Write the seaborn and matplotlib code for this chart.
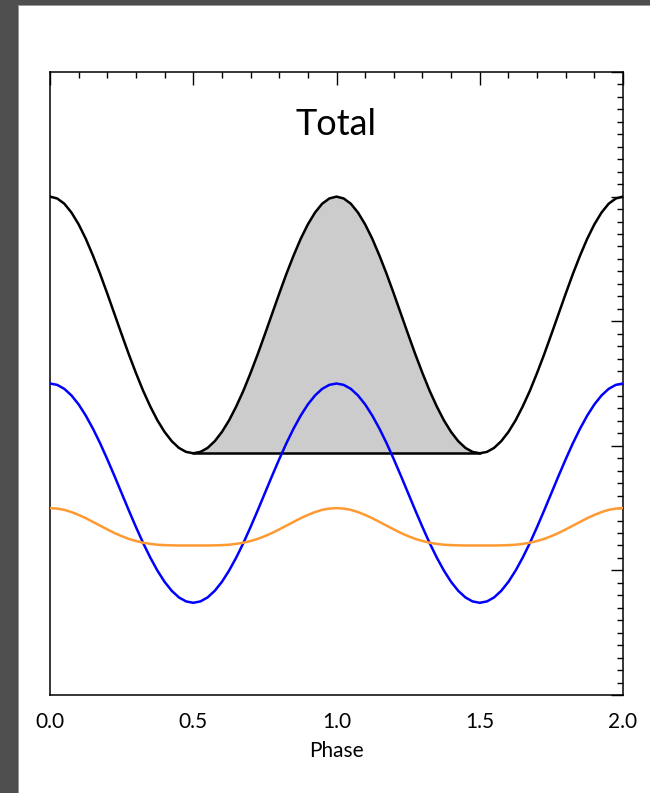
import numpy as np
import pandas as pd
import matplotlib
matplotlib.use("Agg")
import matplotlib.pyplot as plt
from matplotlib.patches import Rectangle
from matplotlib.ticker import MultipleLocator
import seaborn as sns

# ---------------- data (phase step 0.025) ----------------
phase = [round(0.025 * i, 3) for i in range(81)]

blue = [2.500, 2.489, 2.457, 2.404, 2.332, 2.242, 2.137, 2.020, 1.892, 1.758,
        1.620, 1.482, 1.348, 1.220, 1.103, 0.998, 0.908, 0.836, 0.783, 0.751, 0.740,
        0.751, 0.783, 0.836, 0.908, 0.998, 1.103, 1.220, 1.348, 1.482, 1.620,
        1.758, 1.892, 2.020, 2.137, 2.242, 2.332, 2.404, 2.457, 2.489, 2.500,
        2.489, 2.457, 2.404, 2.332, 2.242, 2.137, 2.020, 1.892, 1.758, 1.620,
        1.482, 1.348, 1.220, 1.103, 0.998, 0.908, 0.836, 0.783, 0.751, 0.740,
        0.751, 0.783, 0.836, 0.908, 0.998, 1.103, 1.220, 1.348, 1.482, 1.620,
        1.758, 1.892, 2.020, 2.137, 2.242, 2.332, 2.404, 2.457, 2.489, 2.500]
orange = [1.500, 1.496, 1.486, 1.468, 1.445, 1.419, 1.389, 1.359, 1.329, 1.300,
          1.275, 1.253, 1.236, 1.222, 1.213, 1.206, 1.203, 1.201, 1.200, 1.200, 1.200,
          1.200, 1.200, 1.201, 1.203, 1.206, 1.213, 1.222, 1.236, 1.253, 1.275,
          1.300, 1.329, 1.359, 1.389, 1.419, 1.445, 1.468, 1.486, 1.496, 1.500,
          1.496, 1.486, 1.468, 1.445, 1.419, 1.389, 1.359, 1.329, 1.300, 1.275,
          1.253, 1.236, 1.222, 1.213, 1.206, 1.203, 1.201, 1.200, 1.200, 1.200,
          1.200, 1.200, 1.201, 1.203, 1.206, 1.213, 1.222, 1.236, 1.253, 1.275,
          1.300, 1.329, 1.359, 1.389, 1.419, 1.445, 1.468, 1.486, 1.496, 1.500]
total = [4.000, 3.985, 3.943, 3.872, 3.777, 3.661, 3.526, 3.379, 3.221, 3.058,
         2.895, 2.735, 2.584, 2.442, 2.316, 2.204, 2.111, 2.037, 1.983, 1.951, 1.940,
         1.951, 1.983, 2.037, 2.111, 2.204, 2.316, 2.442, 2.584, 2.735, 2.895,
         3.058, 3.221, 3.379, 3.526, 3.661, 3.777, 3.872, 3.943, 3.985, 4.000,
         3.985, 3.943, 3.872, 3.777, 3.661, 3.526, 3.379, 3.221, 3.058, 2.895,
         2.735, 2.584, 2.442, 2.316, 2.204, 2.111, 2.037, 1.983, 1.951, 1.940,
         1.951, 1.983, 2.037, 2.111, 2.204, 2.316, 2.442, 2.584, 2.735, 2.895,
         3.058, 3.221, 3.379, 3.526, 3.661, 3.777, 3.872, 3.943, 3.985, 4.000]

floor_phase = [0.5, 1.5]
floor_level = 1.940

xtick_values = [0.0, 0.5, 1.0, 1.5, 2.0]
xtick_labels = ["0.0", "0.5", "1.0", "1.5", "2.0"]
title_text = "Total"
xlabel_text = "Phase"

# ---------------- figure ----------------
sns.set_style("white")
plt.rcParams["font.family"] = ["Lato", "DejaVu Sans"]
plt.rcParams["text.color"] = "black"
plt.rcParams["axes.labelcolor"] = "black"
plt.rcParams["xtick.color"] = "black"
plt.rcParams["ytick.color"] = "black"

W, H = 650, 793
fig = plt.figure(figsize=(W / 100, H / 100), dpi=100)
fig.patch.set_facecolor("white")

# dark window frame (left and top)
fig.patches.append(Rectangle((0, 0), 18 / W, 1, transform=fig.transFigure,
                             facecolor="#4e4e4e", edgecolor="none", zorder=0))
fig.patches.append(Rectangle((0, 1 - 5 / H), 1, 5 / H, transform=fig.transFigure,
                             facecolor="#4e4e4e", edgecolor="none", zorder=0))
fig.patches.append(Rectangle((18 / W, 0), 1.2 / W, 1 - 5 / H, transform=fig.transFigure,
                             facecolor="#9a9a9a", edgecolor="none", zorder=0))
fig.patches.append(Rectangle((18 / W, 1 - 6.2 / H), 1 - 18 / W, 1.2 / H,
                             transform=fig.transFigure,
                             facecolor="#9a9a9a", edgecolor="none", zorder=0))

ax = fig.add_axes([50 / W, (H - 695) / H, 573 / W, 623 / H])

df = pd.DataFrame({"phase": phase, "total": total, "blue": blue, "orange": orange})

# shaded pulsed region
ph = np.array(phase)
tt = np.array(total)
mask = (ph >= floor_phase[0]) & (ph <= floor_phase[1])
ax.fill_between(ph[mask], tt[mask], floor_level, color="#cccccc", lw=0, zorder=1)
ax.plot(floor_phase, [floor_level, floor_level], color="black", lw=1.8, zorder=3)

sns.lineplot(data=df, x="phase", y="total", ax=ax, color="black", lw=1.8,
             errorbar=None, zorder=3)
sns.lineplot(data=df, x="phase", y="blue", ax=ax, color="#0000ff", lw=1.8,
             errorbar=None, zorder=3)
sns.lineplot(data=df, x="phase", y="orange", ax=ax, color="#ff9a33", lw=1.8,
             errorbar=None, zorder=3)

ax.set_xlim(0, 2)
ax.set_ylim(0, 5)

ax.set_xticks(xtick_values)
ax.set_xticklabels(xtick_labels)
ax.xaxis.set_minor_locator(MultipleLocator(0.1))
ax.yaxis.set_major_locator(MultipleLocator(1))
ax.yaxis.set_minor_locator(MultipleLocator(0.1))
ax.tick_params(axis="both", which="both", direction="in", top=True, right=True,
               color="black", labelcolor="black")
ax.tick_params(axis="both", which="major", length=9, width=1.0)
ax.tick_params(axis="both", which="minor", length=4.5, width=1.0)
ax.tick_params(axis="x", which="major", labelsize=15, pad=12)
ax.tick_params(axis="y", which="both", labelleft=False)

for sp in ax.spines.values():
    sp.set_visible(True)
    sp.set_color("black")
    sp.set_linewidth(1.1)

ax.set_xlabel(xlabel_text, fontsize=15, labelpad=7, color="black")
ax.set_ylabel("")
ax.text(0.5, 0.915, title_text, transform=ax.transAxes, ha="center", va="center",
        fontsize=26, color="black")

fig.savefig("out.png", dpi=100)
